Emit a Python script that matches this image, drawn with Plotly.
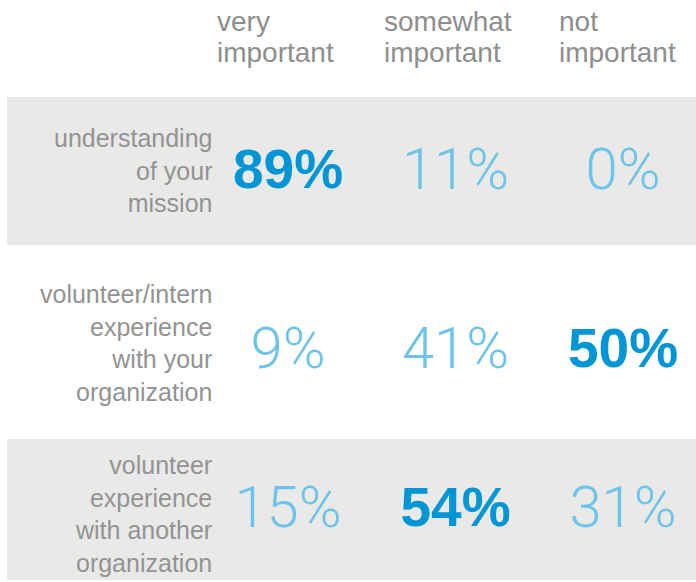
import plotly.graph_objects as go

# data
columns = ["very important", "somewhat important", "not important"]
rows = [
    "understanding<br>of your<br>mission",
    "volunteer/intern<br>experience<br>with your<br>organization",
    "volunteer<br>experience<br>with another<br>organization",
]
values = [
    [89, 11, 0],
    [9, 41, 50],
    [15, 54, 31],
]

W, H = 696, 582
DARK = "#0096d6"
LIGHT = "#6ec3ea"
GRAY_TXT = "#939393"
BAND = "#e9e9e7"

row_centers_px = [174, 353, 512]
label_shift = [4, 10, -2]

fig = go.Figure()

for i, (row, vals) in enumerate(zip(rows, values)):
    yname = "y" if i == 0 else f"y{i + 1}"
    top = max(vals)
    for j, (col, v) in enumerate(zip(columns, vals)):
        bold = v == top
        fig.add_trace(go.Scatter(
            x=[col], y=[row], text=[f"{v}%"], mode="text",
            textposition="middle center",
            textfont=dict(
                family="Liberation Sans" if bold else "Roboto",
                size=55 if bold else 58,
                color=DARK if bold else LIGHT,
                weight=700 if bold else 300,
            ),
            yaxis=yname, showlegend=False, hoverinfo="skip",
        ))
    fig.add_annotation(
        x=214 / W, xref="paper", xanchor="right",
        y=row, yref=yname, yanchor="middle", yshift=label_shift[i],
        text=row, showarrow=False, align="right",
        font=dict(family="Liberation Sans", size=25, color=GRAY_TXT),
    )

# header labels, two lines each
header_left_px = [215, 382, 557]
for col, xl in zip(columns, header_left_px):
    for k, part in enumerate(col.split(" ")):
        fig.add_annotation(
            x=xl / W, xref="paper", xanchor="left",
            y=1 - (22 + 30 * k) / H, yref="paper", yanchor="middle",
            text=part, showarrow=False,
            font=dict(family="Liberation Sans", size=28, color="#8e8e8e"),
        )

# background bands
for y0, y1 in [(97, 245), (439, 580)]:
    fig.add_shape(type="rect", xref="paper", yref="paper", layer="below",
                  x0=7 / W, x1=1, y0=1 - y1 / H, y1=1 - y0 / H,
                  fillcolor=BAND, line_width=0)

layout_axes = {}
for i, row in enumerate(rows):
    c = 1 - row_centers_px[i] / H
    key = "yaxis" if i == 0 else f"yaxis{i + 1}"
    layout_axes[key] = dict(domain=[c - 0.05, c + 0.05], range=[-1, 1],
                            type="category", categoryarray=[row],
                            visible=False, fixedrange=True)
    if i > 0:
        layout_axes[key]["anchor"] = "x"

cx0 = 288
fig.update_layout(
    width=W, height=H,
    margin=dict(l=0, r=0, t=0, b=0),
    paper_bgcolor="white", plot_bgcolor="rgba(0,0,0,0)",
    xaxis=dict(type="category", categoryarray=columns,
               range=[-cx0 / 167.5, (W - cx0) / 167.5], visible=False,
               fixedrange=True),
    **layout_axes,
)

# drop the default body margin so the figure fills the window exactly
fig.write_html("out.html", config={"displayModeBar": False},
               post_script="document.body.style.margin='0px';")
